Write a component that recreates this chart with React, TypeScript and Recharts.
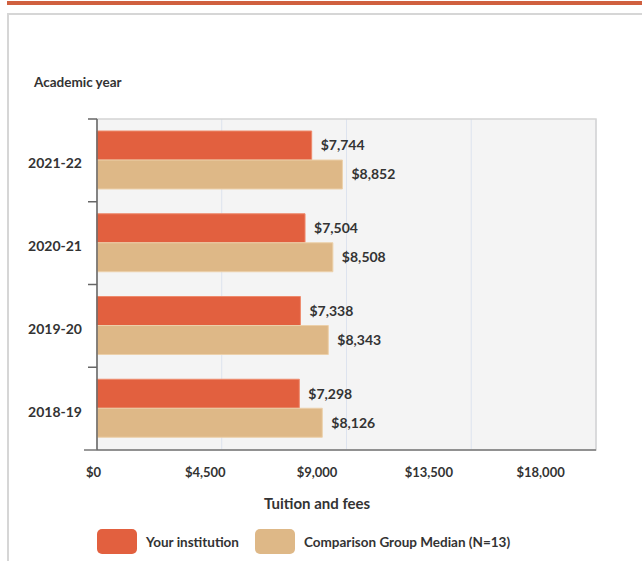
import React from 'react'
import { Bar, BarChart, CartesianGrid, LabelList, ReferenceArea, XAxis, YAxis } from 'recharts'

const years = ['2021-22', '2020-21', '2019-20', '2018-19']
const yourInstitution = [7744, 7504, 7338, 7298]
const groupMedian = [8852, 8508, 8343, 8126]
const xTicks = [0, 4500, 9000, 13500, 18000]
const seriesNames = ['Your institution', 'Comparison Group Median (N=13)']
const seriesColors = ['#e2603f', '#deb887']

const data = years.map((year, i) => ({ year, you: yourInstitution[i], median: groupMedian[i] }))

const W = 642
const H = 561
const PLOT_LEFT = 97
const PLOT_TOP = 119
const PLOT_BOTTOM = 450
const FONT = 'Lato, "Open Sans", sans-serif'
const TEXT = '#333'
const BAND = (PLOT_BOTTOM - PLOT_TOP) / years.length
// tick labels in the original sit a little tighter than the gridlines
const squeeze = (x: number) => PLOT_LEFT - 3.5 + (x - PLOT_LEFT) * 0.896

const money = (v: number) => '$' + v.toLocaleString('en-US')

function YearTick({ y, payload, index }: any) {
  const top = y - BAND / 2
  return (
    <g>
      <line x1={PLOT_LEFT - 9} x2={PLOT_LEFT} y1={top} y2={top} stroke="#666" strokeWidth={1.5} />
      {index === years.length - 1 && (
        <line x1={PLOT_LEFT - 13} x2={PLOT_LEFT} y1={y + BAND / 2} y2={y + BAND / 2} stroke="#777" strokeWidth={1.5} />
      )}
      <text x={PLOT_LEFT - 15} y={y + 8} textAnchor="end" fill={TEXT} fontSize={14} fontWeight={700} fontFamily={FONT}>
        {payload.value}
      </text>
    </g>
  )
}

function MoneyTick({ x, y, payload }: any) {
  return (
    <text x={squeeze(x)} y={y + 19} textAnchor="middle" fill={TEXT} fontSize={13} fontWeight={700} fontFamily={FONT}>
      {money(payload.value)}
    </text>
  )
}

export default function App() {
  return (
    <div style={{ position: 'absolute', left: 0, top: 0, width: W, height: H, background: '#fff', overflow: 'hidden', fontFamily: FONT }}>
      <div style={{ position: 'absolute', left: 7, top: 1, width: W - 7, height: 4, background: '#d0603f' }} />
      <div style={{ position: 'absolute', left: 7, top: 13, width: W, height: H, borderLeft: '2px solid #d6d6d6', borderTop: '2px solid #d6d6d6' }} />
      <div style={{ position: 'absolute', left: 34, top: 74, fontSize: 13.5, fontWeight: 700, color: TEXT }}>Academic year</div>

      <div style={{ position: 'absolute', left: 0, top: 0 }}>
        <BarChart
          width={W}
          height={H}
          data={data}
          layout="vertical"
          margin={{ top: PLOT_TOP, right: 46, bottom: 81, left: 0 }}
          barCategoryGap={12}
          barGap={0}
        >
          <CartesianGrid horizontal={false} stroke="#dde3ee" fill="#f4f4f4" />
          <ReferenceArea x1={0} x2={18000} fill="none" stroke="#d4d4d4" strokeWidth={1.5} />
          <XAxis
            type="number"
            domain={[0, 18000]}
            ticks={xTicks}
            height={30}
            tickLine={false}
            axisLine={{ stroke: '#777', strokeWidth: 1.5 }}
            tick={<MoneyTick />}
            label={{
              content: ({ viewBox }: any) => (
                <text x={squeeze(viewBox.x + viewBox.width / 2)} y={viewBox.y + 59} textAnchor="middle" fill={TEXT} fontSize={15} fontWeight={700} fontFamily={FONT}>
                  Tuition and fees
                </text>
              ),
            }}
          />
          <YAxis
            type="category"
            dataKey="year"
            width={PLOT_LEFT}
            tickLine={false}
            axisLine={{ stroke: '#666', strokeWidth: 1.5 }}
            tick={<YearTick />}
          />
          <Bar dataKey="you" fill={seriesColors[0]} stroke="#ee8a6c" strokeWidth={1} isAnimationActive={false}>
            <LabelList dataKey="you" position="right" offset={9} formatter={(v: any) => money(v)} fill={TEXT} fontSize={14} fontWeight={700} fontFamily={FONT} />
          </Bar>
          <Bar dataKey="median" fill={seriesColors[1]} stroke="#ecd0aa" strokeWidth={1} isAnimationActive={false}>
            <LabelList dataKey="median" position="right" offset={9} formatter={(v: any) => money(v)} fill={TEXT} fontSize={14} fontWeight={700} fontFamily={FONT} />
          </Bar>
        </BarChart>
      </div>

      <div style={{ position: 'absolute', left: 97, top: 529, display: 'flex', alignItems: 'center', fontSize: 13.5, fontWeight: 700, color: TEXT }}>
        {seriesNames.map((name, i) => (
          <div key={name} style={{ display: 'flex', alignItems: 'center', marginRight: 16 }}>
            <div style={{ width: 40, height: 25, borderRadius: 5, background: seriesColors[i], marginRight: 9 }} />
            <span>{name}</span>
          </div>
        ))}
      </div>
    </div>
  )
}
